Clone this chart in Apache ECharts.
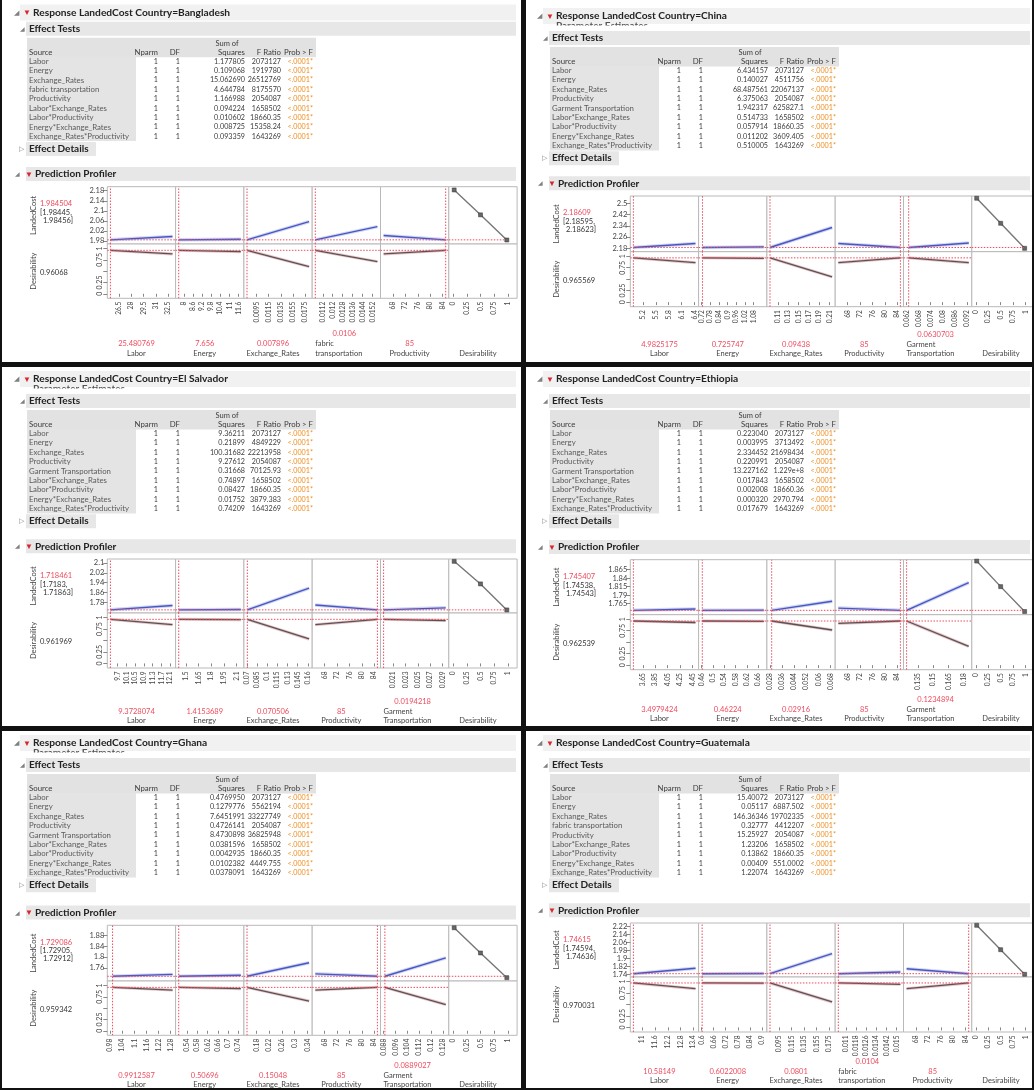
<!DOCTYPE html>
<html><head><meta charset="utf-8">
<script src="https://cdn.jsdelivr.net/npm/echarts@6/dist/echarts.min.js"></script>
<style>html,body{margin:0;padding:0;background:#fff}#c{width:1034px;height:1090px}</style>
</head><body><div id="c"></div>
<script>
// ---------- shared table columns ----------
const nparmCol = [1,1,1,1,1,1,1,1,1];
const dfCol = [1,1,1,1,1,1,1,1,1];
const probCol = ['<.0001*','<.0001*','<.0001*','<.0001*','<.0001*','<.0001*','<.0001*','<.0001*','<.0001*'];
const desTicks = [0,0.25,0.5,0.75,1];
const desAxisLabels = [0,0.25,0.75,1];

// ---------- Bangladesh ----------
const bdSources = ['Labor','Energy','Exchange_Rates','fabric transportation','Productivity','Labor*Exchange_Rates','Labor*Productivity','Energy*Exchange_Rates','Exchange_Rates*Productivity'];
const bdSumSq = ['1.177805','0.109068','15.062690','4.644784','1.166988','0.094224','0.010602','0.008725','0.093359'];
const bdFRatio = ['2073127','1919780','26512769','8175570','2054087','1658502','18660.35','15358.24','1643269'];
const bdFactors = ['Labor','Energy','Exchange_Rates','fabric transportation','Productivity'];
const bdCurrent = [25.480769, 7.656, 0.007896, 0.0106, 85];
const bdCurrentLabel = ['25.480769','7.656','0.007896','0.0106','85'];
const bdLow = [25.480769, 7.656, 0.007896, 0.0106, 65];
const bdHigh = [33.0, 11.75, 0.0182, 0.0156, 85];
const bdRespLow = [1.9845, 1.9845, 1.9845, 1.9845, 2.0016];
const bdRespHigh = [1.998, 1.987, 2.057, 2.037, 1.9845];
const bdDesLow = [0.9607, 0.9607, 0.9607, 0.9607, 0.88];
const bdDesHigh = [0.88, 0.93, 0.60, 0.71, 0.9607];
const bdFactorTicks = [[26.5,28,29.5,31,32.5],[8,8.6,9.2,9.8,10.4,11,11.6],[0.0095,0.0115,0.0135,0.0155,0.0175],[0.0112,0.012,0.0128,0.0136,0.0144,0.0152],[68,72,76,80,84]];
const bdRespTicks = [1.98,2.02,2.06,2.1,2.14,2.18];
const bdRespRange = [1.968, 2.196];
const bdPred = ['1.984504','[1.98445,','1.98456]'];
const bdDes = '0.96068';
const bdDesCurve = [[0.0183,2.183],[0.5,2.084],[0.9819,1.984]];

// ---------- China ----------
const cnSources = ['Labor','Energy','Exchange_Rates','Productivity','Garment Transportation','Labor*Exchange_Rates','Labor*Productivity','Energy*Exchange_Rates','Exchange_Rates*Productivity'];
const cnSumSq = ['6.434157','0.140027','68.487561','6.375063','1.942317','0.514733','0.057914','0.011202','0.510005'];
const cnFRatio = ['2073127','4511756','22067137','2054087','625827.1','1658502','18660.35','3609.405','1643269'];
const cnFactors = ['Labor','Energy','Exchange_Rates','Productivity','Garment Transportation'];
const cnCurrent = [4.9825175, 0.725747, 0.09438, 85, 0.0630703];
const cnCurrentLabel = ['4.9825175','0.725747','0.09438','85','0.0630703'];
const cnLow = [4.9825175, 0.725747, 0.09438, 65, 0.0630703];
const cnHigh = [6.42, 1.15, 0.215, 85, 0.093];
const cnRespLow = [2.1861, 2.1861, 2.1861, 2.214, 2.1861];
const cnRespHigh = [2.214, 2.19, 2.328, 2.1861, 2.218];
const cnDesLow = [0.9656, 0.9656, 0.9656, 0.86, 0.9656];
const cnDesHigh = [0.86, 0.955, 0.55, 0.9656, 0.86];
const cnFactorTicks = [[5.2,5.5,5.8,6.1,6.4],[0.72,0.78,0.84,0.9,0.96,1.02,1.08],[0.11,0.13,0.15,0.17,0.19,0.21],[68,72,76,80,84],[0.062,0.068,0.074,0.08,0.086,0.092]];
const cnRespTicks = [2.18,2.26,2.34,2.42,2.5];
const cnRespRange = [2.156, 2.552];
const cnPred = ['2.18609','[2.18595,','2.18623]'];
const cnDes = '0.965569';
const cnDesCurve = [[0.0183,2.536],[0.5,2.358],[0.9819,2.18]];

// ---------- El Salvador ----------
const esSources = ['Labor','Energy','Exchange_Rates','Productivity','Garment Transportation','Labor*Exchange_Rates','Labor*Productivity','Energy*Exchange_Rates','Exchange_Rates*Productivity'];
const esSumSq = ['9.36211','0.21899','100.31682','9.27612','0.31668','0.74897','0.08427','0.01752','0.74209'];
const esFRatio = ['2073127','4849229','22213958','2054087','70125.93','1658502','18660.35','3879.383','1643269'];
const esFactors = ['Labor','Energy','Exchange_Rates','Productivity','Garment Transportation'];
const esCurrent = [9.3728074, 1.4153689, 0.070506, 85, 0.0194218];
const esCurrentLabel = ['9.3728074','1.4153689','0.070506','85','0.0194218'];
const esLow = [9.3728074, 1.4153689, 0.070506, 65, 0.0194218];
const esHigh = [12.2, 2.15, 0.162, 85, 0.0295];
const esRespLow = [1.7185, 1.7185, 1.7185, 1.758, 1.7185];
const esRespHigh = [1.754, 1.722, 1.896, 1.7185, 1.735];
const esDesLow = [0.962, 0.962, 0.962, 0.845, 0.962];
const esDesHigh = [0.845, 0.955, 0.533, 0.962, 0.935];
const esFactorTicks = [[9.7,10.1,10.5,10.9,11.3,11.7,12.1],[1.5,1.65,1.8,1.95,2.1],[0.07,0.085,0.1,0.115,0.13,0.145,0.16],[68,72,76,80,84],[0.021,0.023,0.025,0.027,0.029]];
const esRespTicks = [1.78,1.86,1.94,2.02,2.1];
const esRespRange = [1.693, 2.133];
const esPred = ['1.718461','[1.7183,','1.71863]'];
const esDes = '0.961969';
const esDesCurve = [[0.0183,2.114],[0.5,1.93],[0.9819,1.718]];

// ---------- Ethiopia ----------
const etSources = ['Labor','Energy','Exchange_Rates','Productivity','Garment Transportation','Labor*Exchange_Rates','Labor*Productivity','Energy*Exchange_Rates','Exchange_Rates*Productivity'];
const etSumSq = ['0.223040','0.003995','2.334452','0.220991','13.227162','0.017843','0.002008','0.000320','0.017679'];
const etFRatio = ['2073127','3713492','21698434','2054087','1.229e+8','1658502','18660.36','2970.794','1643269'];
const etFactors = ['Labor','Energy','Exchange_Rates','Productivity','Garment Transportation'];
const etCurrent = [3.4979424, 0.46224, 0.02916, 85, 0.1234894];
const etCurrentLabel = ['3.4979424','0.46224','0.02916','85','0.1234894'];
const etLow = [3.4979424, 0.46224, 0.02916, 65, 0.1234894];
const etHigh = [4.5, 0.68, 0.069, 85, 0.185];
const etRespLow = [1.7454, 1.7454, 1.7454, 1.752, 1.7454];
const etRespHigh = [1.7495, 1.746, 1.772, 1.7454, 1.827];
const etDesLow = [0.9625, 0.9625, 0.9625, 0.91, 0.9625];
const etDesHigh = [0.93, 0.955, 0.766, 0.9625, 0.41];
const etFactorTicks = [[3.65,3.85,4.05,4.25,4.45],[0.46,0.5,0.54,0.58,0.62,0.66],[0.028,0.036,0.044,0.052,0.06,0.068],[68,72,76,80,84],[0.135,0.15,0.165,0.18]];
const etRespTicks = [1.765,1.79,1.815,1.84,1.865];
const etRespRange = [1.7326, 1.894];
const etPred = ['1.745407','[1.74538,','1.74543]'];
const etDes = '0.962539';
const etDesCurve = [[0.0183,1.890],[0.5,1.815],[0.9819,1.742]];

// ---------- Ghana ----------
const ghSources = ['Labor','Energy','Exchange_Rates','Productivity','Garment Transportation','Labor*Exchange_Rates','Labor*Productivity','Energy*Exchange_Rates','Exchange_Rates*Productivity'];
const ghSumSq = ['0.4769950','0.1279776','7.6451991','0.4726141','8.4730898','0.0381596','0.0042935','0.0102382','0.0378091'];
const ghFRatio = ['2073127','5562194','33227749','2054087','36825948','1658502','18660.35','4449.755','1643269'];
const ghFactors = ['Labor','Energy','Exchange_Rates','Productivity','Garment Transportation'];
const ghCurrent = [0.9912587, 0.50696, 0.15048, 85, 0.0889027];
const ghCurrentLabel = ['0.9912587','0.50696','0.15048','85','0.0889027'];
const ghLow = [0.9912587, 0.50696, 0.15048, 65, 0.0889027];
const ghHigh = [1.29, 0.75, 0.345, 85, 0.13];
const ghRespLow = [1.7291, 1.7291, 1.7291, 1.738, 1.7291];
const ghRespHigh = [1.736, 1.733, 1.779, 1.7291, 1.797];
const ghDesLow = [0.9593, 0.9593, 0.9593, 0.90, 0.9593];
const ghDesHigh = [0.90, 0.93, 0.657, 0.9593, 0.58];
const ghFactorTicks = [[0.98,1.04,1.1,1.16,1.22,1.28],[0.54,0.58,0.62,0.66,0.7,0.74],[0.18,0.22,0.26,0.3,0.34],[68,72,76,80,84],[0.088,0.096,0.104,0.112,0.12,0.128]];
const ghRespTicks = [1.76,1.8,1.84,1.88];
const ghRespRange = [1.7117, 1.917];
const ghPred = ['1.729086','[1.72905,','1.72912]'];
const ghDes = '0.959342';
const ghDesCurve = [[0.0183,1.908],[0.5,1.815],[0.9819,1.724]];

// ---------- Guatemala ----------
const guSources = ['Labor','Energy','Exchange_Rates','fabric transportation','Productivity','Labor*Exchange_Rates','Labor*Productivity','Energy*Exchange_Rates','Exchange_Rates*Productivity'];
const guSumSq = ['15.40072','0.05117','146.36346','0.32777','15.25927','1.23206','0.13862','0.00409','1.22074'];
const guFRatio = ['2073127','6887.502','19702335','4412207','2054087','1658502','18660.35','551.0002','1643269'];
const guFactors = ['Labor','Energy','Exchange_Rates','fabric transportation','Productivity'];
const guCurrent = [10.58149, 0.6022008, 0.0801, 0.0104, 85];
const guCurrentLabel = ['10.58149','0.6022008','0.0801','0.0104','85'];
const guLow = [10.58149, 0.6022008, 0.0801, 0.0104, 65];
const guHigh = [13.5, 0.91, 0.18, 0.0153, 85];
const guRespLow = [1.7462, 1.7462, 1.7462, 1.7462, 1.796];
const guRespHigh = [1.80, 1.748, 1.946, 1.763, 1.7462];
const guDesLow = [0.97, 0.97, 0.97, 0.97, 0.845];
const guDesHigh = [0.845, 0.965, 0.555, 0.94, 0.97];
const guFactorTicks = [[11,11.6,12.2,12.8,13.4],[0.6,0.66,0.72,0.78,0.84,0.9],[0.095,0.115,0.135,0.155,0.175],[0.011,0.0118,0.0126,0.0134,0.0142,0.015],[68,72,76,80,84]];
const guRespTicks = [1.74,1.82,1.9,1.98,2.06,2.14,2.22];
const guRespRange = [1.713, 2.253];
const guPred = ['1.74615','[1.74594,','1.74636]'];
const guDes = '0.970031';
const guDesCurve = [[0.0183,2.23],[0.5,1.986],[0.9819,1.74]];

const countries = ['Bangladesh','China','El Salvador','Ethiopia','Ghana','Guatemala'];

// ---------- assemble ----------
const panels = [
 {sources:bdSources, ss:bdSumSq, fr:bdFRatio, factors:bdFactors, cur:bdCurrent, curLabel:bdCurrentLabel, low:bdLow, high:bdHigh, rLow:bdRespLow, rHigh:bdRespHigh, dLow:bdDesLow, dHigh:bdDesHigh, ticks:bdFactorTicks, yTicks:bdRespTicks, yRange:bdRespRange, pred:bdPred, des:bdDes, curve:bdDesCurve},
 {sources:cnSources, ss:cnSumSq, fr:cnFRatio, factors:cnFactors, cur:cnCurrent, curLabel:cnCurrentLabel, low:cnLow, high:cnHigh, rLow:cnRespLow, rHigh:cnRespHigh, dLow:cnDesLow, dHigh:cnDesHigh, ticks:cnFactorTicks, yTicks:cnRespTicks, yRange:cnRespRange, pred:cnPred, des:cnDes, curve:cnDesCurve},
 {sources:esSources, ss:esSumSq, fr:esFRatio, factors:esFactors, cur:esCurrent, curLabel:esCurrentLabel, low:esLow, high:esHigh, rLow:esRespLow, rHigh:esRespHigh, dLow:esDesLow, dHigh:esDesHigh, ticks:esFactorTicks, yTicks:esRespTicks, yRange:esRespRange, pred:esPred, des:esDes, curve:esDesCurve},
 {sources:etSources, ss:etSumSq, fr:etFRatio, factors:etFactors, cur:etCurrent, curLabel:etCurrentLabel, low:etLow, high:etHigh, rLow:etRespLow, rHigh:etRespHigh, dLow:etDesLow, dHigh:etDesHigh, ticks:etFactorTicks, yTicks:etRespTicks, yRange:etRespRange, pred:etPred, des:etDes, curve:etDesCurve},
 {sources:ghSources, ss:ghSumSq, fr:ghFRatio, factors:ghFactors, cur:ghCurrent, curLabel:ghCurrentLabel, low:ghLow, high:ghHigh, rLow:ghRespLow, rHigh:ghRespHigh, dLow:ghDesLow, dHigh:ghDesHigh, ticks:ghFactorTicks, yTicks:ghRespTicks, yRange:ghRespRange, pred:ghPred, des:ghDes, curve:ghDesCurve},
 {sources:guSources, ss:guSumSq, fr:guFRatio, factors:guFactors, cur:guCurrent, curLabel:guCurrentLabel, low:guLow, high:guHigh, rLow:guRespLow, rHigh:guRespHigh, dLow:guDesLow, dHigh:guDesHigh, ticks:guFactorTicks, yTicks:guRespTicks, yRange:guRespRange, pred:guPred, des:guDes, curve:guDesCurve}
];

// ---------- layout (positions / styles) ----------
const FONT = 'Lato';
const origins = [[0,0],[523,0],[0,363],[523,363],[0,727],[523,727]];
const shifts = [-9.3,0,0,0,0,0];
const plotTops = [186.7, 196, 559, 559.7, 925.3, 923];
const topHs = [57.3, 55.7, 54, 55, 55.7, 54];
const botHs = [54.3, 55, 55, 55, 54.3, 55];
const labelOff = [45.7, 38, 43.3, 40, 40, 39.5];
const hiddenSubhead = [false, true, true, false, true, false];
const plotLeftRel = 107.3, colW = 68.3;
const RED = '#ee4a5d', ORANGE = '#ee8c1c', TXT = '#3c3c3c';
const grids=[], xAxes=[], yAxes=[], series=[], graphics=[];
const fmt = v => String(parseFloat(Number(v).toPrecision(8)));

function txt(x,y,text,o={}){
  graphics.push({type:'text', x, y, rotation:o.rot||0, z:o.z||10, silent:true,
    style:{text, x:0, y:0, font:(o.bold?'bold ':'')+(o.size||8)+'px '+FONT, fill:o.color||TXT,
      align:o.align||'left', verticalAlign:'middle'}});
}
function rect(x,y,w,h,fill,z){ graphics.push({type:'rect', z:z||1, silent:true, shape:{x,y,width:w,height:h}, style:{fill}}); }
function addGrid(l,t,w,h){ grids.push({left:l, top:t, width:w, height:h, show:true, borderColor:'#b9b9b9', borderWidth:1, backgroundColor:'#fff'}); return grids.length-1; }
function redLine(gi, data){
  series.push({type:'line', xAxisIndex:gi, yAxisIndex:gi, data:data, showSymbol:false, silent:true, z:5,
    lineStyle:{color:RED, width:1, type:[1.5,1.5]}, itemStyle:{color:RED}});
}

panels.forEach((p,k)=>{
  const [ox,oy] = origins[k]; const s = shifts[k];
  const Y = v => oy + v + s;
  const right = (ox===0) ? 520 : 1034;
  // title
  const ty = k===0 ? oy+12.5 : oy+16;
  const et = Y(38);
  if(hiddenSubhead[k]){
    txt(ox+33, ty+10, 'Parameter Estimates', {bold:true, size:10, color:'#555', z:5});
    rect(ox+20, ty+9.5, right-ox-24, et-7-(ty+9.5), '#fff', 6);
  }
  rect(ox+20, ty-8, right-ox-24, 16, '#f1f1f1');
  txt(ox+14, ty, '◢', {size:7, color:'#808080'});
  txt(ox+23, ty, '▼', {size:8, color:'#d8262e'});
  txt(ox+33, ty, 'Response LandedCost Country=' + countries[k], {bold:true, size:10.2, color:'#222'});
  // Effect Tests
  rect(ox+26, et-7, right-ox-30, 14, '#e7e7e7', 7);
  txt(ox+20, et, '◢', {size:6, color:'#808080'});
  txt(ox+29, et, 'Effect Tests', {bold:true, size:10, color:'#222'});
  const hdr = Y(61.5), sumOf = hdr-8.5, row0 = Y(70.5), step = 9.4;
  rect(ox+27, sumOf-6, 289, hdr-sumOf+11, '#e2e2e2');
  rect(ox+27, row0-4.7, 109, step*9, '#e4e4e4');
  const cx = {nparm:ox+158, df:ox+180, ss:ox+245, fr:ox+281, prob:ox+313};
  txt(ox+227, sumOf, 'Sum of', {align:'center', size:7.5});
  txt(ox+29, hdr, 'Source', {size:7.8}); txt(cx.nparm, hdr, 'Nparm', {align:'right', size:7.8}); txt(cx.df, hdr, 'DF', {align:'right', size:7.8});
  txt(cx.ss, hdr, 'Squares', {align:'right', size:7.8}); txt(cx.fr, hdr, 'F Ratio', {align:'right', size:7.8}); txt(cx.prob, hdr, 'Prob > F', {align:'right', size:7.8});
  p.sources.forEach((src,i)=>{
    const y = row0 + i*step;
    txt(ox+29, y, src, {color:'#5a5a5a', size:7.8});
    txt(cx.nparm, y, String(nparmCol[i]), {align:'right', size:7.2});
    txt(cx.df, y, String(dfCol[i]), {align:'right', size:7.2});
    txt(cx.ss, y, p.ss[i], {align:'right', size:7.2});
    txt(cx.fr, y, p.fr[i], {align:'right', size:7.2});
    txt(cx.prob, y, probCol[i], {align:'right', color:ORANGE, size:7.2});
  });
  // Effect Details
  const ed = row0 + 8*step + 12.5;
  rect(ox+26, ed-7, 70, 14, '#e7e7e7');
  txt(ox+19, ed, '▷', {size:7, color:'#808080'});
  txt(ox+29, ed, 'Effect Details', {bold:true, size:10, color:'#222'});
  // Prediction Profiler
  const plotTop = plotTops[k], topH = topHs[k], botH = botHs[k];
  const pp = plotTop - 12.7;
  rect(ox+26, pp-7, right-ox-30, 14, '#e7e7e7');
  txt(ox+15, pp, '◢', {size:6, color:'#808080'});
  txt(ox+25, pp, '▼', {size:8, color:'#d8262e'});
  txt(ox+35, pp, 'Prediction Profiler', {bold:true, size:10, color:'#222'});

  const left0 = ox + plotLeftRel;
  const midY = plotTop + topH, botY = midY + botH;
  const pred = parseFloat(p.pred[0]), des = parseFloat(p.des);
  // y labels
  txt(ox+34, plotTop+topH/2, 'LandedCost', {rot:Math.PI/2, align:'center', size:7.5, color:'#444'});
  txt(ox+40, plotTop+17, p.pred[0], {size:7.5, color:RED});
  txt(ox+40, plotTop+25.5, p.pred[1], {size:7.5, color:'#333'});
  txt(ox+43, plotTop+33.5, p.pred[2], {size:7.5, color:'#333'});
  txt(ox+34, midY+botH/2, 'Desirability', {rot:Math.PI/2, align:'center', size:7.5, color:'#444'});
  txt(ox+40, midY+29, p.des, {size:7.5, color:'#333'});

  const lo = labelOff[k];
  for(let c=0;c<6;c++){
    const gl = left0 + c*colW;
    const gTop = addGrid(gl, plotTop, colW, topH);
    const gBot = addGrid(gl, midY, colW, botH);
    const isDes = c===5;
    let xmin, xmax, ticks;
    if(isDes){ xmin=-0.08; xmax=1.17; ticks=desTicks; }
    else {
      ticks = p.ticks[c];
      const R = p.high[c]-p.low[c];
      xmin = Math.min(p.low[c], ticks[0]) - 0.05*R;
      xmax = Math.max(p.high[c], ticks[ticks.length-1]) + 0.05*R;
    }
    xAxes.push({type:'value', gridIndex:gTop, min:xmin, max:xmax, show:false});
    xAxes.push({type:'value', gridIndex:gBot, min:xmin, max:xmax,
      axisLine:{show:false}, splitLine:{show:false},
      axisTick:{show:true, customValues:ticks, length:3, lineStyle:{color:'#888'}},
      axisLabel:{show:true, customValues:ticks, rotate:90, margin:3.5, fontSize:6.6, color:'#444', fontFamily:FONT, formatter:fmt, hideOverlap:false}});
    yAxes.push({type:'value', gridIndex:gTop, min:p.yRange[0], max:p.yRange[1], show:c===0,
      axisLine:{show:false}, splitLine:{show:false},
      axisTick:{show:true, customValues:p.yTicks, length:4, lineStyle:{color:'#888'}},
      axisLabel:{show:true, customValues:p.yTicks, margin:3, fontSize:7.5, color:'#444', fontFamily:FONT, formatter:fmt}});
    yAxes.push({type:'value', gridIndex:gBot, min:-0.1, max:1.1, show:c===0,
      axisLine:{show:false}, splitLine:{show:false},
      axisTick:{show:true, customValues:desTicks, length:4, lineStyle:{color:'#888'}},
      axisLabel:{show:true, customValues:desAxisLabels, rotate:90, margin:4, fontSize:7, color:'#444', fontFamily:FONT, formatter:fmt}});
    if(!isDes){
      const tr = [[p.low[c], p.rLow[c]],[p.high[c], p.rHigh[c]]];
      const dr = [[p.low[c], p.dLow[c]],[p.high[c], p.dHigh[c]]];
      redLine(gTop, [[xmin, pred],[xmax, pred]]);
      redLine(gTop, [[p.cur[c], p.yRange[0]],[p.cur[c], p.yRange[1]]]);
      redLine(gBot, [[xmin, des],[xmax, des]]);
      redLine(gBot, [[p.cur[c], -0.1],[p.cur[c], 1.1]]);
      series.push({type:'line', xAxisIndex:gTop, yAxisIndex:gTop, data:tr, showSymbol:false, silent:true,
        lineStyle:{width:3.5, color:'rgba(140,150,220,0.4)'}, z:3});
      series.push({type:'line', xAxisIndex:gTop, yAxisIndex:gTop, data:tr, showSymbol:false, silent:true,
        lineStyle:{width:1.4, color:'#4657c4'}, z:4});
      series.push({type:'line', xAxisIndex:gBot, yAxisIndex:gBot, data:dr, showSymbol:false, silent:true,
        lineStyle:{width:3, color:'rgba(215,120,130,0.45)'}, z:3});
      series.push({type:'line', xAxisIndex:gBot, yAxisIndex:gBot, data:dr, showSymbol:false, silent:true,
        lineStyle:{width:1.3, color:'#555'}, z:4});
    } else {
      series.push({type:'line', xAxisIndex:gTop, yAxisIndex:gTop, data:p.curve, symbol:'rect', symbolSize:4, silent:true,
        itemStyle:{color:'#666', borderColor:'#333', borderWidth:0.5}, lineStyle:{width:1.4, color:'#777'}, z:4});
      redLine(gTop, [[xmin, pred],[des, pred]]);
    }
    // bottom labels
    const ccx = gl + colW/2 - 5;
    const name = isDes ? 'Desirability' : p.factors[c];
    if(!isDes && name.indexOf(' ')>0){
      const parts = name.split(' ');
      txt(gl+colW/2-2, botY+lo-10, p.curLabel[c], {align:'center', size:7.5, color:RED});
      txt(gl+3, botY+lo, parts[0], {size:7.5, color:'#444'});
      txt(gl+3, botY+lo+9.3, parts.slice(1).join(' '), {size:7.5, color:'#444'});
    } else {
      if(!isDes) txt(ccx, botY+lo, p.curLabel[c], {align:'center', size:7.5, color:RED});
      txt(ccx, botY+lo+9.3, name, {align:'center', size:7.5, color:'#444'});
    }
  }
});

// panel separators / frames
rect(0, 0, 2, 1090, '#111', 100);
rect(521, 0, 5, 1090, '#111', 100);
rect(0, 362, 1034, 5, '#111', 100);
rect(0, 726, 1034, 5, '#111', 100);
rect(1032, 0, 2, 1090, '#111', 100);
rect(0, 1088, 1034, 2, '#111', 100);

const chart = echarts.init(document.getElementById('c'));
chart.setOption({animation:false, backgroundColor:'#fff', grid:grids, xAxis:xAxes, yAxis:yAxes, series:series, graphic:{elements:graphics}});
</script></body></html>
